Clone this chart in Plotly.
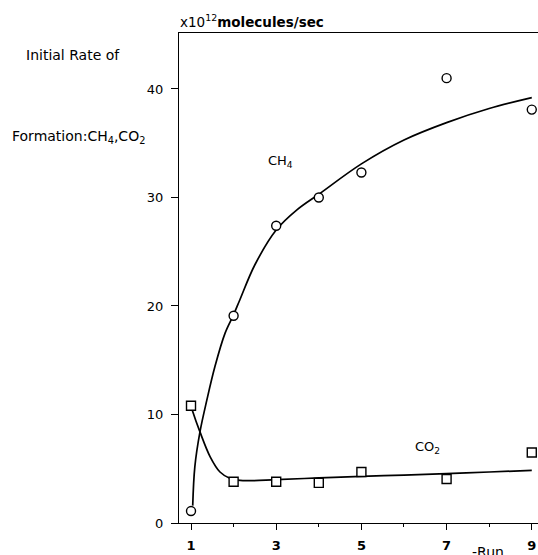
import plotly.graph_objects as go

# Measured data (run number vs initial rate, x10^12 molecules/sec)
runs = [1, 2, 3, 4, 5, 7, 9]
ch4_rate = [1.1, 19.1, 27.4, 30.0, 32.3, 41.0, 38.1]
co2_rate = [10.8, 3.8, 3.8, 3.7, 4.7, 4.05, 6.5]

# Hand-drawn fitted curves
ch4_fit_x = [1.04, 1.09, 1.21, 1.37, 1.56, 1.80, 2.0, 2.15, 2.5, 3.0, 3.5, 4.0, 5.0, 6.0, 7.0, 8.0, 9.0]
ch4_fit_y = [1.6, 5.2, 8.4, 11.3, 14.4, 17.5, 19.2, 20.6, 23.8, 27.0, 28.9, 30.3, 33.1, 35.3, 36.9, 38.2, 39.2]
co2_fit_x = [1.0, 1.03, 1.21, 1.45, 1.68, 1.92, 2.1, 2.38, 3.0, 4.0, 5.0, 6.0, 7.0, 8.0, 9.0]
co2_fit_y = [10.8, 10.4, 8.4, 6.1, 4.7, 4.1, 3.95, 3.9, 4.0, 4.15, 4.3, 4.42, 4.55, 4.7, 4.85]

x_tickvals = [1, 3, 5, 7, 9]
x_ticktext = ["1", "3", "5", "7", "9"]
x_minor = [2, 4, 6, 8]
y_tickvals = [0, 10, 20, 30, 40]

FONT = "DejaVu Sans, Arial, sans-serif"

fig = go.Figure()
fig.add_trace(go.Scatter(x=ch4_fit_x, y=ch4_fit_y, mode="lines", line=dict(color="black", width=1.7, shape="spline"),
                         showlegend=False, hoverinfo="skip"))
fig.add_trace(go.Scatter(x=co2_fit_x, y=co2_fit_y, mode="lines", line=dict(color="black", width=1.7, shape="spline"),
                         showlegend=False, hoverinfo="skip"))
fig.add_trace(go.Scatter(x=runs, y=ch4_rate, mode="markers", name="CH4",
                         marker=dict(symbol="circle", size=9, color="white", line=dict(color="black", width=1.4)),
                         showlegend=False))
fig.add_trace(go.Scatter(x=runs, y=co2_rate, mode="markers", name="CO2",
                         marker=dict(symbol="square", size=9, color="white", line=dict(color="black", width=1.4)),
                         showlegend=False))

annotations = [
    dict(text="x10<sup>12</sup><b>molecules/sec</b>", xref="paper", yref="paper", x=-0.003, y=1, xanchor="left",
         yanchor="bottom", yshift=1, showarrow=False, font=dict(family=FONT, size=13.5, color="black")),
    dict(text="Initial Rate of", xref="paper", yref="paper", x=(24 - 179) / 359, y=1 - (55 - 33) / 490,
         xanchor="left", yanchor="middle", showarrow=False, font=dict(family=FONT, size=14, color="black")),
    dict(text="Formation:CH<sub>4</sub>,CO<sub>2</sub>", xref="paper", yref="paper", x=(10 - 179) / 359,
         y=1 - (137 - 33) / 490, xanchor="left", yanchor="middle", showarrow=False,
         font=dict(family=FONT, size=14, color="black")),
    dict(text="CH<sub>4</sub>", x=3.09, y=33.3, xref="x", yref="y", showarrow=False,
         font=dict(family=FONT, size=13, color="black")),
    dict(text="CO<sub>2</sub>", x=6.56, y=6.95, xref="x", yref="y", showarrow=False,
         font=dict(family=FONT, size=13, color="black")),
    dict(text="-Run", xref="paper", yref="paper", x=(488 - 179) / 359, y=0, yshift=-29, xanchor="center",
         yanchor="middle", showarrow=False, font=dict(family=FONT, size=14, color="black")),
]

fig.update_layout(
    width=538, height=555,
    margin=dict(l=179, r=0, t=33, b=32),
    paper_bgcolor="white", plot_bgcolor="white",
    font=dict(family=FONT, color="black"),
    annotations=annotations,
    xaxis=dict(range=[0.718, 9.146], showline=True, linecolor="black", linewidth=1.3, mirror=True,
               showgrid=False, zeroline=False, ticks="outside", ticklen=6, tickwidth=1.3, tickcolor="black",
               tickmode="array", tickvals=x_tickvals, ticktext=["<b>" + t + "</b>" for t in x_ticktext],
               ticklabelstandoff=4,
               tickfont=dict(family=FONT, size=13, color="black")),
    yaxis=dict(range=[0, 45.16], showline=True, linecolor="black", linewidth=1.3, mirror=False,
               showgrid=False, zeroline=False, ticks="outside", ticklen=7, tickwidth=1.2, tickcolor="black",
               tickmode="array", tickvals=y_tickvals, ticklabelstandoff=5,
               tickfont=dict(family=FONT, size=13, color="black")),
)
fig.update_xaxes(minor=dict(tickmode="array", tickvals=x_minor, ticks="outside", ticklen=3, tickwidth=1.2,
                            tickcolor="black"))

# remove the browser's default 8px page margin so the figure fills the window exactly
fig.write_html("out.html", config={"displayModeBar": False},
               post_script="document.body.style.margin='0';document.body.style.overflow='hidden';")
